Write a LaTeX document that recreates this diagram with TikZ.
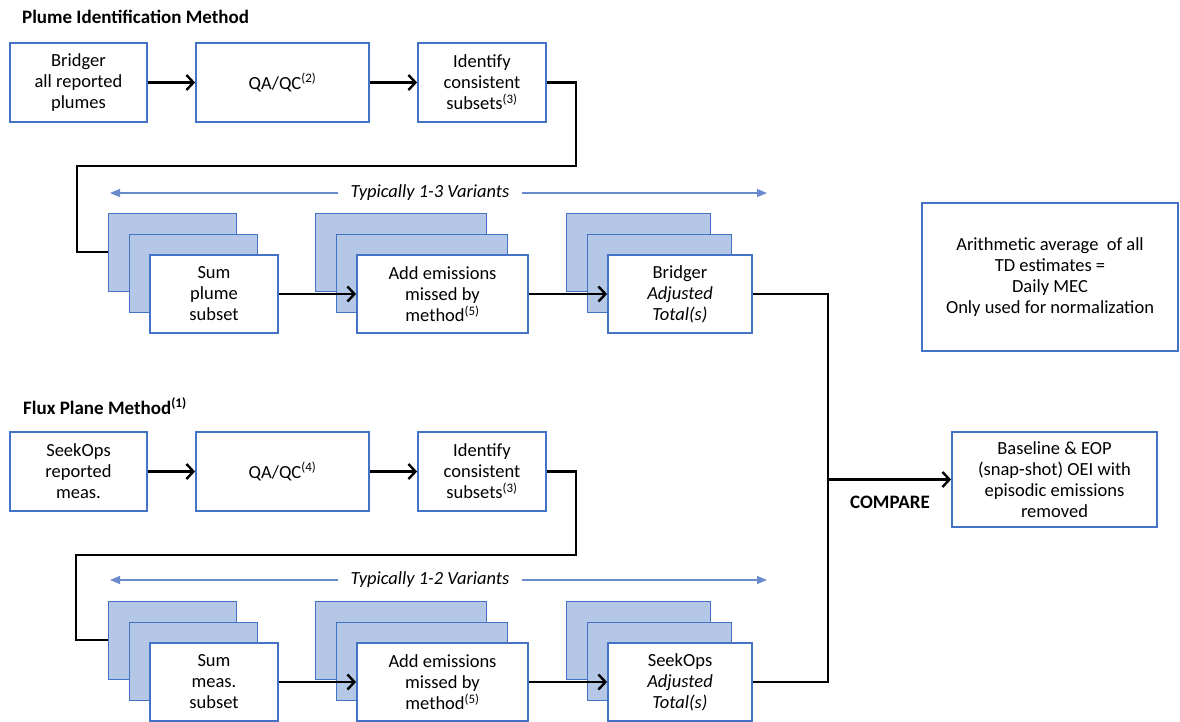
\documentclass[tikz,border=0pt]{standalone}
\usepackage{fontspec}
\setmainfont{Carlito}
\usetikzlibrary{arrows.meta,positioning}
\definecolor{boxblue}{RGB}{68,114,196}
\definecolor{layerblue}{RGB}{180,199,231}
\definecolor{spanblue}{RGB}{105,138,205}
\begin{document}
\begin{tikzpicture}[x=1pt,y=-1pt,
    font=\fontsize{18.5}{21}\selectfont,
    box/.style={draw=boxblue,line width=1.8pt,fill=white,align=center,inner sep=1pt},
    layer/.style={draw=boxblue,line width=1pt,fill=layerblue},
    flow/.style={line width=2.4pt,-{Straight Barb[length=7pt,width=15pt]}},
    link/.style={line width=2.4pt},
    span/.style={draw=spanblue,line width=1.1pt,-{Triangle[length=10pt,width=8pt]}},
    spantext/.style={font=\fontsize{18.5}{21}\selectfont\itshape,inner xsep=12pt},
    title/.style={anchor=west,inner sep=0pt,font=\fontsize{19}{21}\selectfont\bfseries}]
  \useasboundingbox (0,0) rectangle (1180,721);

  % plume identification
  \node[title] (ptitle) at (22,17) {Plume Identification Method};
  \node[box,minimum width=137pt,minimum height=79pt] (p0) at (78.5,82.5) {Bridger\\all reported\\plumes};
  \node[box,minimum width=173pt,minimum height=79pt] (pqa) at (282.5,82.5) {QA/QC\textsuperscript{(2)}};
  \node[box,minimum width=128pt,minimum height=79pt] (pid) at (482,82.5) {Identify\\consistent\\subsets\textsuperscript{(3)}};
  \draw[flow] (p0) -- (pqa);
  \draw[flow] (pqa) -- (pid);

  \node[spantext] (pspan) at (430,193) {Typically 1-3 Variants};
  \coordinate (pl) at (110,193);
  \coordinate (pr) at (767,193);
  \draw[span] (pspan.west) -- (pl);
  \draw[span] (pspan.east) -- (pr);

  \node[layer,minimum width=128pt,minimum height=78pt] (p1a) at (172,252) {};
  \node[layer,minimum width=128pt,minimum height=78pt] (p1b) at (193,273) {};
  \node[box,minimum width=128pt,minimum height=78pt] (p1) at (214,294) {Sum\\plume\\subset};
  \node[layer,minimum width=171pt,minimum height=78pt] (p2a) at (400.5,252) {};
  \node[layer,minimum width=171pt,minimum height=78pt] (p2b) at (421.5,273) {};
  \node[box,minimum width=171pt,minimum height=78pt] (p2) at (442.5,294) {Add emissions\\missed by\\method\textsuperscript{(5)}};
  \node[layer,minimum width=144pt,minimum height=78pt] (p3a) at (638,252) {};
  \node[layer,minimum width=144pt,minimum height=78pt] (p3b) at (659,273) {};
  \node[box,minimum width=144pt,minimum height=78pt] (p3) at (680,294) {Bridger\\\textit{Adjusted}\\\textit{Total(s)}};
  \draw[link] (pid.east) -| (576,166) -- (77,166) |- (p1a.west);
  \draw[flow] (p1) -- (p2);
  \draw[flow] (p2) -- (p3);

  % flux plane
  \node[title] (ftitle) at (23,406) {Flux Plane Method\textsuperscript{(1)}};
  \node[box,minimum width=137pt,minimum height=79pt] (f0) at (78.5,471.5) {SeekOps\\reported\\meas.};
  \node[box,minimum width=173pt,minimum height=79pt] (fqa) at (282.5,471.5) {QA/QC\textsuperscript{(4)}};
  \node[box,minimum width=128pt,minimum height=79pt] (fid) at (482,471.5) {Identify\\consistent\\subsets\textsuperscript{(3)}};
  \draw[flow] (f0) -- (fqa);
  \draw[flow] (fqa) -- (fid);

  \node[spantext] (fspan) at (430,580) {Typically 1-2 Variants};
  \coordinate (fl) at (110,580);
  \coordinate (fr) at (767,580);
  \draw[span] (fspan.west) -- (fl);
  \draw[span] (fspan.east) -- (fr);

  \node[layer,minimum width=128pt,minimum height=78pt] (f1a) at (172,640) {};
  \node[layer,minimum width=128pt,minimum height=78pt] (f1b) at (193,661) {};
  \node[box,minimum width=128pt,minimum height=78pt] (f1) at (214,682) {Sum\\meas.\\subset};
  \node[layer,minimum width=171pt,minimum height=78pt] (f2a) at (400.5,640) {};
  \node[layer,minimum width=171pt,minimum height=78pt] (f2b) at (421.5,661) {};
  \node[box,minimum width=171pt,minimum height=78pt] (f2) at (442.5,682) {Add emissions\\missed by\\method\textsuperscript{(5)}};
  \node[layer,minimum width=144pt,minimum height=78pt] (f3a) at (638,640) {};
  \node[layer,minimum width=144pt,minimum height=78pt] (f3b) at (659,661) {};
  \node[box,minimum width=144pt,minimum height=78pt] (f3) at (680,682) {SeekOps\\\textit{Adjusted}\\\textit{Total(s)}};
  \draw[link] (fid.east) -| (576,555) -- (76,555) |- (f1a.west);
  \draw[flow] (f1) -- (f2);
  \draw[flow] (f2) -- (f3);

  % comparison
  \node[box,minimum width=256pt,minimum height=148pt] (avg) at (1050,277) {Arithmetic average\ \ of all\\TD estimates =\\Daily MEC\\Only used for normalization};
  \node[box,minimum width=205pt,minimum height=95pt] (res) at (1054.5,479.5) {Baseline \& EOP\\(snap-shot) OEI with\\episodic emissions\\removed};
  \coordinate (join) at (828,479.5);
  \draw[link] (p3.east) -| (join);
  \draw[link] (f3.east) -| (join);
  \draw[flow] (join) -- (res.west);
  \node[font=\fontsize{19}{21}\selectfont\bfseries] (cmp) at (890,502) {COMPARE};
\end{tikzpicture}
\end{document}
